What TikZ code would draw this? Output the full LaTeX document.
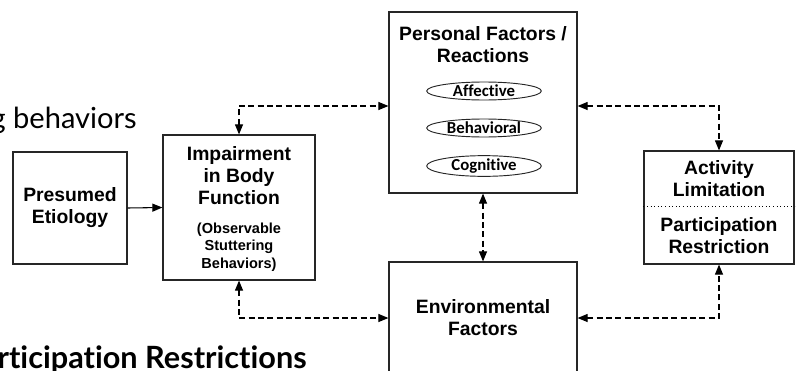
\documentclass[tikz,border=0pt]{standalone}
\usepackage{fontspec}
\setmainfont{Liberation Sans}
\newfontfamily\ovalfont[Ligatures=NoCommon]{Carlito}
\newfontfamily\slidefont[Ligatures=NoCommon]{Lato}
\usetikzlibrary{arrows.meta,positioning,shapes.geometric}

\begin{document}
\begin{tikzpicture}[x=0.75pt,y=-0.75pt,>={Triangle[length=7.5pt,width=6pt]},
    box/.style={draw=black!85,line width=0.9pt,align=center,inner sep=0pt,
      font=\bfseries\fontsize{14.5}{16.5}\selectfont},
    oval/.style={ellipse,draw=black!85,line width=0.7pt,inner sep=0pt,
      minimum width=86pt,minimum height=13.5pt,
      font=\ovalfont\bfseries\fontsize{12.6}{13}\selectfont},
    link/.style={<->,dash pattern=on 4.5pt off 2.5pt,line width=0.8pt},
    label/.style={align=center,inner sep=0pt,
      font=\bfseries\fontsize{14.5}{16.5}\selectfont}]
  \useasboundingbox (0,0) rectangle (800,371);
  \clip (0,0) rectangle (800,371);
  % slide text behind the figure
  \node (behav) at (137,128) [anchor=base east,inner sep=0pt,
    font=\slidefont\fontsize{21.8}{24}\selectfont] {g behaviors};
  \node (restr) at (307,368) [anchor=base east,inner sep=0pt,
    font=\slidefont\bfseries\fontsize{23}{26}\selectfont] {rticipation Restrictions};
  % boxes
  \node (eti) at (70,208) [box,minimum width=85.5pt,minimum height=84pt]
    {Presumed\\Etiology};
  \node (imp) at (239,207.5) [box,minimum width=114pt,minimum height=108.75pt] {};
  \node (imptitle) at (239,176) [label] {Impairment\\in Body\\Function};
  \node (impsub) at (239,247) [label,font=\bfseries\fontsize{10.9}{13}\selectfont]
    {(Observable\\Stuttering\\Behaviors)};
  \node (per) at (483,102.5) [box,minimum width=141pt,minimum height=135.75pt] {};
  \node (pertitle) at (483,45) [label] {Personal Factors /\\Reactions};
  \node (aff) at (484,91) [oval] {Affective};
  \node (beh) at (484,128) [oval] {Behavioral};
  \node (cog) at (484,166) [oval] {Cognitive};
  \node (env) at (483,318) [box,minimum width=141pt,minimum height=84pt]
    {Environmental\\Factors};
  \node (act) at (719,207.5) [box,minimum width=112.5pt,minimum height=84.75pt] {};
  \node (acttitle) at (719,179) [label] {Activity\\Limitation};
  \node (partitle) at (719,236) [label] {Participation\\Restriction};
  \coordinate (div) at (0,206);
  \coordinate (up) at (0,106);
  \coordinate (dn) at (0,318);
  \draw [dotted,line width=0.7pt] (act.west |- div) -- (act.east |- div);
  % connectors
  \draw [->,line width=0.8pt] (eti.east) -- (imp.west);
  \draw [link] (imp.north) |- (per.west |- up);
  \draw [link] (imp.south) |- (env.west |- dn);
  \draw [link] (per.south) -- (env.north);
  \draw [link] (per.east |- up) -| (act.north);
  \draw [link] (env.east |- dn) -| (act.south);
\end{tikzpicture}
\end{document}
